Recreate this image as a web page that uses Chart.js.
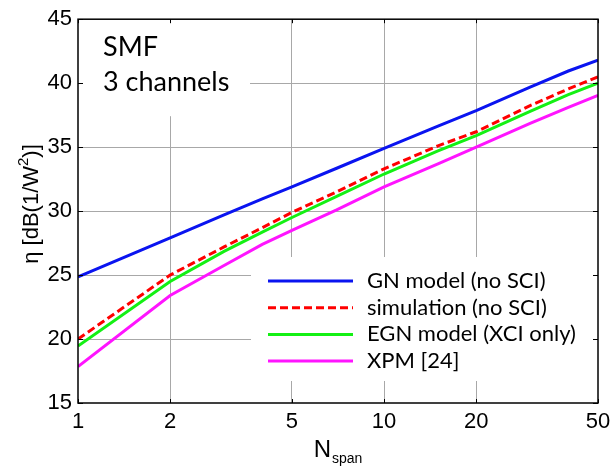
<!DOCTYPE html>
<html>
<head>
<meta charset="utf-8">
<script src="https://cdn.jsdelivr.net/npm/chart.js@4.4.1/dist/chart.umd.min.js"></script>
<style>
    html, body { margin: 0; padding: 0; background: #fff; }
    #wrap { width: 610px; height: 471px; }
</style>
</head>
<body>
<div id="wrap"><canvas id="chart"></canvas></div>
<script>
// Number of spans (x values)
const spans = [1, 2, 3, 4, 5, 7, 10, 15, 20, 30, 40, 50];

// eta [dB(1/W^2)]
const gnModel    = [24.85, 27.9, 29.7, 30.95, 31.9, 33.35, 34.9, 36.65, 37.85, 39.7, 40.95, 41.8];
const simulation = [20.0, 25.0, 27.2, 28.7, 29.9, 31.5, 33.3, 35.1, 36.2, 38.25, 39.55, 40.5];
const egnModel   = [19.45, 24.5, 26.85, 28.35, 29.5, 31.15, 32.9, 34.7, 35.9, 37.8, 39.1, 40.0];
const xpm        = [17.85, 23.4, 25.75, 27.4, 28.5, 30.1, 31.9, 33.7, 35.0, 36.85, 38.1, 39.05];

const seriesLabels = ['GN model (no SCI)', 'simulation (no SCI)', 'EGN model (XCI only)', 'XPM [24]'];
const xTicks = [1, 2, 5, 10, 20, 50];
const yMin = 15, yMax = 45, yStep = 5;

const toPoints = (vals) => vals.map((v, i) => ({ x: spans[i], y: v }));

const tickFont = { family: 'Liberation Sans, Arial, sans-serif', size: 22 };

// white boxes, legend, annotation text, frame and axis titles
const decorPlugin = {
    id: 'decor',
    beforeDatasetsDraw(chart) {
        const { ctx, chartArea: a } = chart;
        ctx.save();
        ctx.fillStyle = '#fff';
        ctx.fillRect(a.left, a.top, 172, 97);
        ctx.fillRect(251, 257, a.right - 251, 124);
        ctx.restore();
    },
    afterDraw(chart) {
        const { ctx, chartArea: a } = chart;
        const xs = chart.scales.x, ys = chart.scales.y;
        ctx.save();

        // frame + small inward ticks
        ctx.strokeStyle = '#000';
        ctx.lineWidth = 1.5;
        ctx.strokeRect(a.left, a.top, a.right - a.left, a.bottom - a.top);
        ctx.lineWidth = 1;
        ctx.beginPath();
        xTicks.forEach(v => {
            const px = Math.round(xs.getPixelForValue(v)) + 0.5;
            ctx.moveTo(px, a.bottom); ctx.lineTo(px, a.bottom - 4);
            ctx.moveTo(px, a.top); ctx.lineTo(px, a.top + 4);
        });
        for (let v = yMin; v <= yMax; v += yStep) {
            const py = Math.round(ys.getPixelForValue(v)) + 0.5;
            ctx.moveTo(a.left, py); ctx.lineTo(a.left + 5, py);
            ctx.moveTo(a.right, py); ctx.lineTo(a.right - 5, py);
        }
        ctx.stroke();

        // legend
        ctx.font = '22px Lato, sans-serif';
        ctx.textBaseline = 'middle';
        ctx.textAlign = 'left';
        chart.data.datasets.forEach((ds, i) => {
            const y = 281 + i * 26.7;
            ctx.strokeStyle = ds.borderColor;
            ctx.lineWidth = 3;
            ctx.setLineDash(ds.borderDash || []);
            ctx.beginPath();
            ctx.moveTo(268, y);
            ctx.lineTo(353, y);
            ctx.stroke();
            ctx.setLineDash([]);
            ctx.fillStyle = '#000';
            ctx.fillText(ds.label, 367, y);
        });

        // annotation
        ctx.font = '27px Lato, sans-serif';
        ctx.fillText('SMF', 103, 47);
        ctx.fillText('3 channels', 103, 82);

        // y title, superscript drawn smaller and raised
        ctx.save();
        ctx.translate(30, 204);
        ctx.rotate(-Math.PI / 2);
        ctx.textBaseline = 'alphabetic';
        const big = '22px Liberation Sans, Arial, sans-serif';
        const small = '15px Liberation Sans, Arial, sans-serif';
        ctx.font = big;
        const w1 = ctx.measureText('η [dB(1/W').width;
        const w3 = ctx.measureText(')]').width;
        ctx.font = small;
        const w2 = ctx.measureText('2').width;
        let tx = -(w1 + w2 + w3) / 2;
        ctx.font = big;
        ctx.fillText('η [dB(1/W', tx, 8);
        tx += w1;
        ctx.font = small;
        ctx.fillText('2', tx, -2);
        tx += w2;
        ctx.font = big;
        ctx.fillText(')]', tx, 8);
        ctx.restore();

        // x title with subscript
        ctx.textBaseline = 'alphabetic';
        ctx.font = '24px Liberation Sans, Arial, sans-serif';
        const wN = ctx.measureText('N').width;
        ctx.font = '14px Liberation Sans, Arial, sans-serif';
        const wS = ctx.measureText('span').width;
        const left = (a.left + a.right) / 2 - (wN + wS + 1) / 2;
        ctx.font = '24px Liberation Sans, Arial, sans-serif';
        ctx.fillText('N', left, 457);
        ctx.font = '14px Liberation Sans, Arial, sans-serif';
        ctx.fillText('span', left + wN + 1, 463);

        ctx.restore();
    }
};

new Chart(document.getElementById('chart'), {
    type: 'line',
    data: {
        datasets: [
            { label: seriesLabels[0], data: toPoints(gnModel), borderColor: '#0a14f0', borderWidth: 3 },
            { label: seriesLabels[1], data: toPoints(simulation), borderColor: '#ff0000', borderWidth: 3, borderDash: [8, 4] },
            { label: seriesLabels[2], data: toPoints(egnModel), borderColor: '#14f014', borderWidth: 3 },
            { label: seriesLabels[3], data: toPoints(xpm), borderColor: '#ff14ff', borderWidth: 3 }
        ]
    },
    options: {
        responsive: true,
        maintainAspectRatio: false,
        animation: false,
        elements: { point: { radius: 0 }, line: { tension: 0, fill: false } },
        layout: { padding: { top: 13, right: 12, left: 0, bottom: 0 } },
        plugins: { legend: { display: false }, tooltip: { enabled: false } },
        scales: {
            x: {
                type: 'logarithmic',
                min: 1,
                max: 50,
                afterBuildTicks: (scale) => { scale.ticks = xTicks.map(v => ({ value: v })); },
                afterFit: (scale) => {
                    scale.height = 68;
                    scale.paddingLeft = 0;
                    scale.paddingRight = 0;
                },
                border: { display: false },
                grid: {
                    drawTicks: false,
                    color: (c) => (c.tick && (c.tick.value === 1 || c.tick.value === 50)) ? 'rgba(0,0,0,0)' : '#a8a8a8',
                    lineWidth: 1
                },
                ticks: {
                    autoSkip: false,
                    maxRotation: 0,
                    padding: 6,
                    color: '#000',
                    font: tickFont,
                    callback: (v) => String(v)
                }
            },
            y: {
                min: yMin,
                max: yMax,
                afterFit: (scale) => { scale.width = 78; },
                border: { display: false },
                grid: {
                    drawTicks: false,
                    color: (c) => (c.tick && (c.tick.value === yMin || c.tick.value === yMax)) ? 'rgba(0,0,0,0)' : '#a8a8a8',
                    lineWidth: 1
                },
                ticks: {
                    stepSize: yStep,
                    padding: 6,
                    color: '#000',
                    font: tickFont
                }
            }
        }
    },
    plugins: [decorPlugin]
});
</script>
</body>
</html>
